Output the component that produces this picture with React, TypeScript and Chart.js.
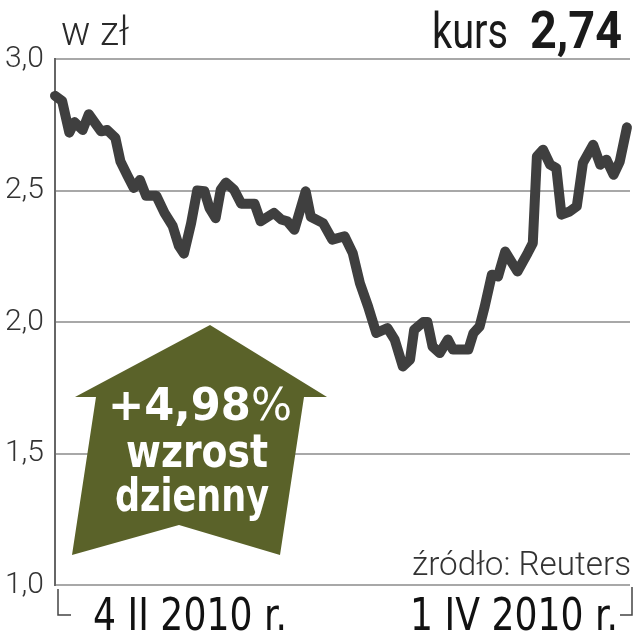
import React, { useEffect, useRef } from "react";
import { Chart, registerables } from "chart.js";

Chart.register(...registerables);

// Trading period: 4 II 2010 (day 0) .. 1 IV 2010 (day 56)
const days = [
  0, 0.7, 1.4, 1.9, 2.7, 3.3, 4.5, 5.1, 5.9, 6.4, 7.1, 7.7, 8.3, 8.9, 9.9, 10.7,
  11.5, 12.1, 12.6, 13.3, 13.9, 14.6, 15.1, 15.7, 16.2, 16.7, 17.5, 18.2, 19.5,
  20.1, 21.4, 22.1, 22.7, 23.4, 24.5, 25.0, 26.2, 27.1, 28.3, 29.1, 29.8, 30.6,
  31.4, 32.5, 33.2, 34.0, 34.7, 35.1, 36.0, 36.4, 36.9, 37.6, 38.4, 38.9, 40.4,
  40.9, 41.5, 42.0, 42.7, 43.3, 44.0, 45.2, 46.2, 46.7, 47.1, 47.7, 48.4, 49.0,
  49.5, 50.3, 51.0, 51.6, 52.6, 53.3, 53.9, 54.6, 55.2, 55.9,
];
const prices = [
  2.86, 2.84, 2.72, 2.76, 2.73, 2.79, 2.725, 2.73, 2.7, 2.61, 2.555, 2.51, 2.54,
  2.48, 2.48, 2.415, 2.365, 2.29, 2.26, 2.375, 2.5, 2.497, 2.433, 2.395, 2.503,
  2.53, 2.503, 2.45, 2.45, 2.383, 2.415, 2.39, 2.383, 2.351, 2.497, 2.4, 2.376,
  2.313, 2.326, 2.262, 2.148, 2.059, 1.958, 1.977, 1.933, 1.831, 1.857, 1.97,
  2.0, 2.0, 1.907, 1.882, 1.933, 1.895, 1.895, 1.958, 1.983, 2.059, 2.18, 2.173,
  2.268, 2.192, 2.262, 2.3, 2.63, 2.655, 2.598, 2.585, 2.408, 2.42, 2.44, 2.605,
  2.674, 2.598, 2.617, 2.56, 2.61, 2.74,
];
const yMin = 1.0;
const yMax = 3.0;
const yStep = 0.5;
const xMax = 56.2;
const xLabels = ["4 II 2010 r.", "1 IV 2010 r."];
const unitLabel = "w zł";
const rateLabel = "kurs";
const rateValue = "2,74";
const changeValue = "+4,98";
const changeUnit = "%";
const changeLines = ["wzrost", "dzienny"];
const sourceLabel = "źródło: Reuters";

function fitText(
  ctx: CanvasRenderingContext2D,
  text: string,
  x: number,
  y: number,
  font: string,
  color: string,
  align: "left" | "right" | "center",
  width: number
) {
  ctx.save();
  ctx.font = font;
  ctx.fillStyle = color;
  ctx.textBaseline = "alphabetic";
  ctx.textAlign = "left";
  const w = ctx.measureText(text).width;
  const sx = width / w;
  let left = x;
  if (align === "right") left = x - width;
  if (align === "center") left = x - width / 2;
  ctx.translate(left, y);
  ctx.scale(sx, 1);
  ctx.fillText(text, 0, 0);
  ctx.restore();
}

const overlay = {
  id: "overlay",
  beforeDatasetsDraw(chart: any) {
    const ctx: CanvasRenderingContext2D = chart.ctx;
    const { left, top } = chart.chartArea;
    // arrow shape, offsets from chart area corner
    const pts = [
      [155, 266],
      [272, 338],
      [249, 338],
      [225, 496],
      [124, 466],
      [17, 496],
      [41, 338],
      [20, 338],
    ];
    ctx.save();
    ctx.fillStyle = "#5a6229";
    ctx.beginPath();
    pts.forEach(([px, py], i) => {
      if (i === 0) ctx.moveTo(left + px, top + py);
      else ctx.lineTo(left + px, top + py);
    });
    ctx.closePath();
    ctx.fill();

    // text inside arrow
    ctx.font = 'bold 44px "DejaVu Sans"';
    const w1 = ctx.measureText(changeValue).width;
    ctx.font = '44px "DejaVu Sans"';
    const w2 = ctx.measureText(changeUnit).width;
    const total = 184;
    const sx = total / (w1 + w2);
    const cx = left + 145;
    const by = top + 361;
    ctx.fillStyle = "#ffffff";
    ctx.textBaseline = "alphabetic";
    ctx.textAlign = "left";
    ctx.translate(cx - total / 2, by);
    ctx.scale(sx, 1);
    ctx.font = 'bold 44px "DejaVu Sans"';
    ctx.fillText(changeValue, 0, 0);
    ctx.font = '44px "DejaVu Sans"';
    ctx.fillText(changeUnit, w1, 0);
    ctx.restore();

    fitText(ctx, changeLines[0], left + 142, top + 408, 'bold 47px "DejaVu Sans"', "#ffffff", "center", 142);
    fitText(ctx, changeLines[1], left + 137, top + 452, 'bold 47px "DejaVu Sans"', "#ffffff", "center", 154);
  },
  afterDraw(chart: any) {
    const ctx: CanvasRenderingContext2D = chart.ctx;
    const { left, right, top, bottom } = chart.chartArea;
    // header texts
    fitText(ctx, unitLabel, left + 6, top - 14, '300 40px Roboto', "#2a2a2a", "left", 68);
    fitText(ctx, rateLabel, left + 377, top - 11, '50px Roboto', "#1a1a1a", "left", 76);
    fitText(ctx, rateValue, left + 475, top - 11, 'bold 52px Roboto', "#1a1a1a", "left", 92);
    // source
    fitText(ctx, sourceLabel, right + 1, bottom - 10, '300 33px Roboto', "#333333", "right", 219);

    // bottom brackets
    ctx.save();
    ctx.strokeStyle = "#444444";
    ctx.lineWidth = 1.5;
    ctx.beginPath();
    ctx.moveTo(left + 3, bottom + 4);
    ctx.lineTo(left + 3, bottom + 30);
    ctx.lineTo(left + 16, bottom + 30);
    ctx.moveTo(right - 10, bottom + 30);
    ctx.lineTo(right + 2, bottom + 30);
    ctx.lineTo(right + 2, bottom + 2);
    ctx.stroke();
    ctx.restore();

    fitText(ctx, xLabels[0], left + 38, bottom + 45, '44px "DejaVu Sans"', "#111111", "left", 194);
    fitText(ctx, xLabels[1], right - 12, bottom + 45, '44px "DejaVu Sans"', "#111111", "right", 208);
  },
};

export default function App() {
  const canvasRef = useRef<HTMLCanvasElement | null>(null);

  useEffect(() => {
    const canvas = canvasRef.current;
    if (!canvas) return;
    const chart = new Chart(canvas, {
      type: "line",
      data: {
        datasets: [
          {
            data: days.map((d, i) => ({ x: d, y: prices[i] })),
            borderColor: "#3f3f3f",
            borderWidth: 10,
            pointRadius: 0,
            tension: 0,
            borderJoinStyle: "round",
            borderCapStyle: "round",
            clip: false,
          } as any,
        ],
      },
      options: {
        animation: false,
        responsive: false,
        events: [],
        layout: { padding: { top: 59, right: 3, bottom: 55, left: 0 } },
        plugins: {
          legend: { display: false },
          tooltip: { enabled: false },
          title: { display: false },
        },
        scales: {
          x: {
            type: "linear",
            min: 0,
            max: xMax,
            display: false,
          },
          y: {
            min: yMin,
            max: yMax,
            afterFit(scale: any) {
              scale.width = 55;
            },
            ticks: {
              stepSize: yStep,
              padding: 11,
              color: "#333333",
              font: { family: "Roboto", weight: 300 as any, size: 30 },
              callback: (v: any) => Number(v).toFixed(1).replace(".", ","),
            },
            grid: {
              color: "#a8a8a8",
              lineWidth: 2,
              drawTicks: false,
            },
            border: { color: "#666666", width: 2 },
          },
        },
      },
      plugins: [overlay],
    });
    return () => chart.destroy();
  }, []);

  return (
    <div style={{ position: "absolute", left: 0, top: 0, width: 633, height: 640, background: "#ffffff" }}>
      <canvas ref={canvasRef} width={633} height={640} />
    </div>
  );
}
